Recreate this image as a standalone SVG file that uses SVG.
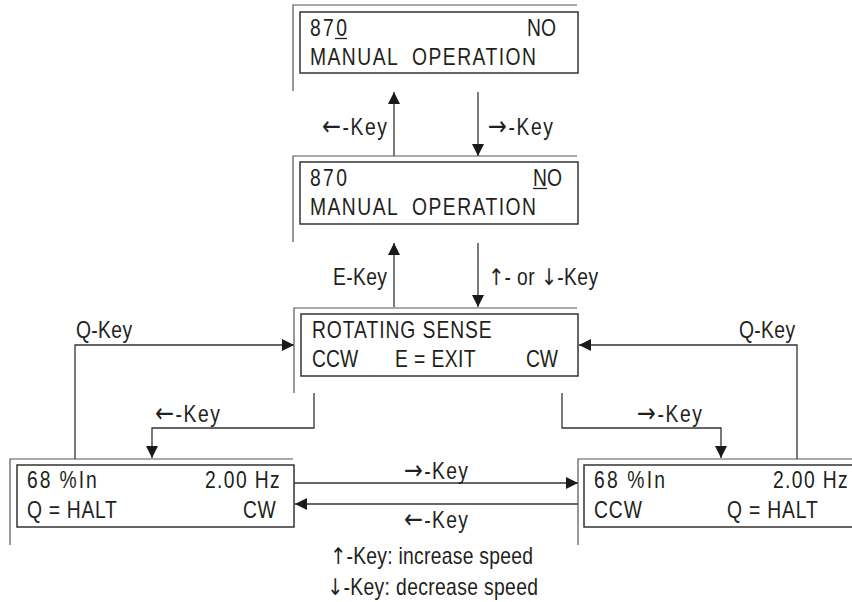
<svg xmlns="http://www.w3.org/2000/svg" width="852" height="602" viewBox="0 0 852 602">
<style>
text{font-family:"Liberation Sans",Arial,sans-serif;font-size:23px;fill:#231f20}
.ar{font-family:"DejaVu Sans","Liberation Sans",sans-serif}
.ah{font-family:"DejaVu Sans","Liberation Sans",sans-serif;font-size:27px}
.frame{fill:none;stroke:#555;stroke-width:1.2}
.box{fill:#fff;stroke:#333;stroke-width:1.5}
.c{fill:none;stroke:#333;stroke-width:1.3}
.ul{stroke:#231f20;stroke-width:1.3}
</style>
<defs>
<marker id="ah" markerUnits="userSpaceOnUse" markerWidth="12" markerHeight="12" refX="12" refY="6" orient="auto">
<path d="M0,0 L12,6 L0,12 z" fill="#1a1a1a"/>
</marker>
</defs>
<rect width="852" height="602" fill="#fff"/>
<g id="connectors">
<path class="c" d="M478,92 V156" marker-end="url(#ah)"/>
<path class="c" d="M394,156 V92" marker-end="url(#ah)"/>
<path class="c" d="M478,243 V307" marker-end="url(#ah)"/>
<path class="c" d="M394,307 V243" marker-end="url(#ah)"/>
<path class="c" d="M314,393 V428 H152 V458" marker-end="url(#ah)"/>
<path class="c" d="M562,393 V428 H721 V458" marker-end="url(#ah)"/>
<path class="c" d="M75,459 V345 H294" marker-end="url(#ah)"/>
<path class="c" d="M797,459 V345 H579" marker-end="url(#ah)"/>
<path class="c" d="M294,483 H578" marker-end="url(#ah)"/>
<path class="c" d="M578,504 H295" marker-end="url(#ah)"/>
<text transform="translate(322 135) scale(0.84 1)" textLength="77.4"><tspan class="ah">←</tspan>-Key</text>
<text transform="translate(488 135) scale(0.84 1)" textLength="77.4"><tspan class="ah">→</tspan>-Key</text>
<text transform="translate(333 285) scale(0.84 1)" textLength="64.3">E-Key</text>
<text transform="translate(488 285) scale(0.84 1)" textLength="131"><tspan class="ar">↑</tspan>- or <tspan class="ar">↓</tspan>-Key</text>
<text transform="translate(76 338) scale(0.84 1)" textLength="66.7">Q-Key</text>
<text transform="translate(739 338) scale(0.84 1)" textLength="66.7">Q-Key</text>
<text transform="translate(155 422) scale(0.84 1)" textLength="77.4"><tspan class="ah">←</tspan>-Key</text>
<text transform="translate(637 422) scale(0.84 1)" textLength="77.4"><tspan class="ah">→</tspan>-Key</text>
<text transform="translate(404 479) scale(0.84 1)" textLength="76.2"><tspan class="ah">→</tspan>-Key</text>
<text transform="translate(404 528) scale(0.84 1)" textLength="76.2"><tspan class="ah">←</tspan>-Key</text>
<text transform="translate(330 564) scale(0.84 1)" textLength="241.7"><tspan class="ar">↑</tspan>-Key: increase speed</text>
<text transform="translate(327 595) scale(0.84 1)" textLength="251.2"><tspan class="ar">↓</tspan>-Key: decrease speed</text>
</g>
<g id="node1">
<path class="frame" d="M293,91 V5 H577"/>
<rect class="box" x="300" y="12" width="278" height="61"/>
<text transform="translate(310 36) scale(0.84 1)" textLength="44">870</text>
<line class="ul" x1="335" y1="38.5" x2="347" y2="38.5"/>
<text transform="translate(527 36) scale(0.84 1)" textLength="34.5">NO</text>
<text transform="translate(310 65) scale(0.84 1)" textLength="269" xml:space="preserve">MANUAL  OPERATION</text>
</g>
<g id="node2">
<path class="frame" d="M293,242 V156 H577"/>
<rect class="box" x="300" y="162" width="278" height="62"/>
<text transform="translate(310 186) scale(0.84 1)" textLength="44">870</text>
<text transform="translate(533 186) scale(0.84 1)" textLength="34.5">NO</text>
<line class="ul" x1="533" y1="188.5" x2="547" y2="188.5"/>
<text transform="translate(310 215) scale(0.84 1)" textLength="269" xml:space="preserve">MANUAL  OPERATION</text>
</g>
<g id="node3">
<path class="frame" d="M294,393 V308 H577"/>
<rect class="box" x="301" y="314" width="277" height="62"/>
<text transform="translate(312 338) scale(0.84 1)" textLength="214">ROTATING SENSE</text>
<text transform="translate(312 367) scale(0.84 1)" textLength="55">CCW</text>
<text transform="translate(395 367) scale(0.84 1)" textLength="96">E = EXIT</text>
<text transform="translate(526 367) scale(0.84 1)" textLength="38">CW</text>
</g>
<g id="node4">
<path class="frame" d="M10,545 V459 H293"/>
<rect class="box" x="17" y="465" width="277" height="62"/>
<text transform="translate(27 488) scale(0.84 1)" textLength="83">68 %In</text>
<text transform="translate(205 488) scale(0.84 1)" textLength="89">2.00 Hz</text>
<text transform="translate(27 518) scale(0.84 1)" textLength="107">Q = HALT</text>
<text transform="translate(243 518) scale(0.84 1)" textLength="39">CW</text>
</g>
<g id="node5">
<path class="frame" d="M578,545 V459 H852"/>
<rect class="box" x="584" y="465" width="280" height="62"/>
<text transform="translate(594 488) scale(0.84 1)" textLength="84.5">68 %In</text>
<text transform="translate(773 488) scale(0.84 1)" textLength="89">2.00 Hz</text>
<text transform="translate(594 518) scale(0.84 1)" textLength="57">CCW</text>
<text transform="translate(727 518) scale(0.84 1)" textLength="108">Q = HALT</text>
</g>
</svg>
